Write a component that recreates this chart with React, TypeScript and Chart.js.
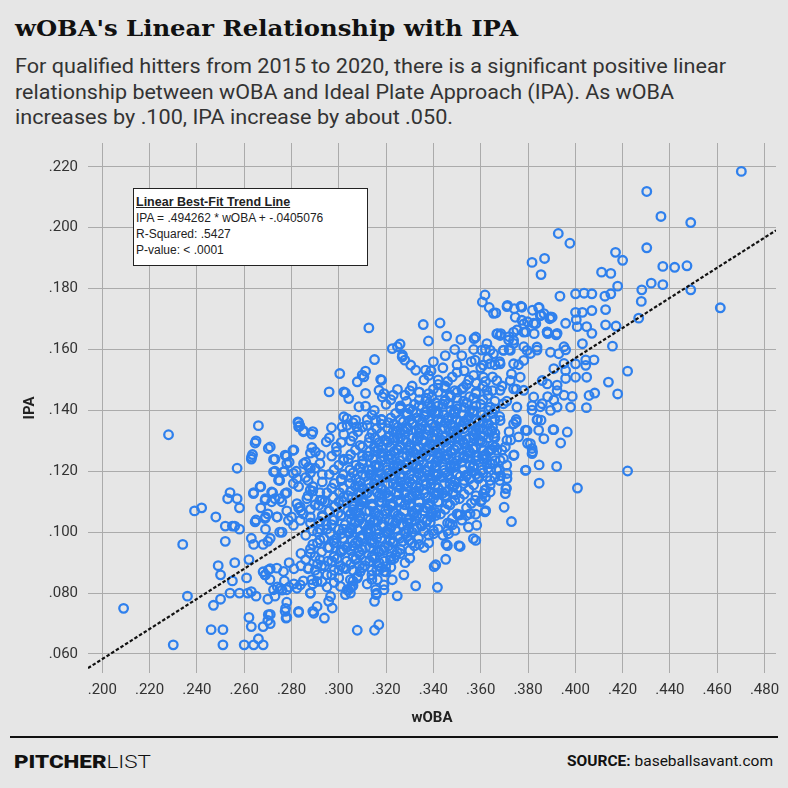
import React, { useEffect, useLayoutEffect, useRef } from "react";
import { Chart, registerables } from "chart.js";
Chart.register(...registerables);

type P = [number, number];

const X_TICKS = [0.2, 0.22, 0.24, 0.26, 0.28, 0.3, 0.32, 0.34, 0.36, 0.38, 0.4, 0.42, 0.44, 0.46, 0.48];
const Y_TICKS = [0.06, 0.08, 0.1, 0.12, 0.14, 0.16, 0.18, 0.2, 0.22];
const X_RANGE = [0.19395, 0.48485];
const Y_RANGE = [0.05376, 0.22782];
const TREND_SLOPE = 0.494262;
const TREND_INTERCEPT = -0.0405076;

// wOBA, IPA pairs
const LOW_TAIL: P[] = [
  [.228,.132],[.209,.075],[.230,.063],[.234,.096],[.236,.079],[.239,.107],[.242,.108],[.246,.068],[.251,.068],[.251,.063],
  [.248,.105],[.247,.076],[.250,.078],[.249,.089],[.250,.086],[.252,.102],[.252,.097],[.253,.111],[.254,.113],[.257,.111],
  [.258,.108],[.255,.102],[.256,.102],[.258,.101],[.256,.090],[.255,.084],[.254,.080],[.258,.080],[.257,.121],[.260,.063],
  [.2615,.080],[.263,.0805],[.265,.079],[.261,.085],[.262,.072],[.263,.069],[.264,.063],[.266,.065],[.268,.063],[.263,.124],
  [.2635,.1255],[.265,.130],[.266,.135],[.264,.113],[.267,.115],[.265,.104],[.263,.098],[.264,.096],[.262,.091],[.267,.108],
  [.271,.128],[.273,.124],[.273,.120],[.275,.117],[.272,.113],[.273,.111],[.275,.111],[.278,.113],[.269,.111],[.270,.106],
  [.269,.105],[.274,.105],[.269,.101],[.268,.096],[.270,.097],[.271,.098],[.275,.100],[.276,.100],[.268,.087],[.269,.086],
  [.271,.088],[.270,.078],[.273,.079],[.271,.073],[.270,.071],[.271,.070],[.268,.069],[.278,.125],[.279,.123],[.281,.127],
  [.277,.120],[.283,.136],[.2835,.135],[.285,.133],[.289,.133],[.286,.123],[.288,.121],[.287,.117],[.282,.120],[.283,.115],
  [.278,.107],[.280,.105],[.283,.108],[.284,.107],[.278,.077],[.2775,.075],[.278,.072],[.283,.074],[.289,.074],[.288,.080],
  [.274,.082],[.276,.081],[.279,.082],[.281,.083],[.277,.084],[.279,.090],[.281,.088],[.284,.089],[.286,.091],[.288,.093],
];

const LEFT_BAND: P[] = [
  [.2827,.1362],[.283,.1346],[.2851,.1333],[.2886,.1322],[.2969,.1343],[.2947,.1297],[.3021,.1379],[.3035,.1373],[.3071,.1368],
  [.3014,.1346],[.3035,.1351],[.3075,.1346],[.3021,.1322],[.312,.1351],[.3156,.1368],[.2646,.1293],[.2631,.1247],[.2702,.1275],
  [.2724,.1239],[.2773,.1253],[.2806,.1269],[.2886,.1278],[.2901,.1264],[.2922,.1253],[.2724,.1198],[.2766,.1198],[.278,.1225],
  [.2745,.1171],[.2808,.1193],[.2823,.1176],[.2808,.116],[.2851,.1225],[.2872,.1214],[.2667,.1149],[.2639,.1127],[.2716,.1132],
  [.2773,.1127],[.2688,.1105],[.2716,.11],[.2759,.11],[.2879,.1138],[.2865,.111],[.2823,.1094],[.2837,.1083],[.2915,.1088],
  [.2929,.1105],[.2646,.1034],[.2688,.1045],[.2738,.105],[.2787,.1039],[.2808,.1023],[.2837,.1039],[.2879,.105],
];

const UPPER_BAND: P[] = [
  [.3127,.1671],[.3226,.1603],[.3259,.1618],[.3248,.1609],[.3269,.1582],[.3279,.1565],[.3151,.1567],[.3004,.1521],[.2959,.1461],
  [.3113,.1529],[.3099,.1516],[.3078,.1494],[.3177,.1502],[.3268,.1576],[.3304,.1549],[.3325,.1532],[.3367,.1532],[.3021,.1461],
  [.3042,.1439],[.3085,.1412],[.3113,.1456],[.3028,.1458],[.3106,.151],[.3113,.1414],[.3181,.1499],[.317,.1466],[.3191,.1455],
  [.3184,.1444],[.3248,.1469],[.3357,.1682],[.3428,.1687],[.3379,.1628],[.3456,.1644],[.3516,.1633],[.3572,.1636],[.3579,.1641],
  [.345,.158],[.349,.160],[.352,.158],[.340,.156],[.357,.160],[.362,.160],
];

const BOTTOM_BAND: P[] = [
  [.3078,.0678],[.3151,.0678],[.3169,.0696],[.2939,.0718],[.2894,.0734],[.288,.08],[.2965,.0789],[.2972,.0751],[.3035,.0811],
  [.3049,.08],[.3056,.0822],[.3151,.0773],[.3158,.0795],[.3191,.0811],[.3247,.0791],[.3275,.086],[.3325,.0824],[.3417,.0819],
  [.3403,.0887],[.341,.0893],[.3452,.0911],[.3459,.0956],[.3508,.0956],[.3513,.0953],[.3579,.0973],[.3621,.1071],[.3579,.1059],
  [.3513,.1057],[.348,.1024],[.3699,.1082],[.373,.1035],[.3709,.1144],[.3685,.1185],[.3678,.1204],[.316,.08],[.3453,.0961],
  [.2957,.0773],[.2908,.0756],[.283,.0737],[.2773,.074],[.2777,.0718],[.2702,.0729],[.3049,.0816],[.3028,.0795],[.3007,.0822],
  [.3049,.0844],[.3078,.0849],[.3156,.0811],[.3163,.0844],[.3191,.0827],[.3226,.0844],[.3191,.0871],[.3198,.0887],[.3219,.0909],
  [.2872,.0882],[.2886,.0844],[.2908,.0838],[.2929,.0838],[.295,.086],[.2837,.0827],[.2823,.0816],[.278,.0811],[.2752,.0816],
  [.2724,.0811],[.2688,.086],[.2702,.0876],[.2738,.0882],[.2766,.0871],[.2709,.0844],
  [.3401,.0995],[.3464,.0995],[.3569,.0979],[.3491,.1006],[.3505,.1056],[.3583,.1023],[.3548,.1017],[.347,.1028],
];

const CORE: P[] = [
  [.285,.084],[.287,.088],[.284,.093],[.289,.096],[.286,.099],[.288,.103],[.285,.106],[.290,.109],[.287,.112],[.289,.115],
  [.286,.118],[.290,.121],[.288,.126],[.291,.086],[.292,.091],[.291,.100],[.293,.105],[.292,.113],[.293,.119],
  [.295,.082],[.297,.086],[.294,.089],[.298,.092],[.296,.095],[.299,.098],[.295,.101],[.298,.104],[.296,.107],[.300,.110],
  [.295,.113],[.298,.116],[.296,.119],[.300,.122],[.297,.125],[.299,.128],[.296,.131],[.300,.085],[.301,.094],[.302,.101],
  [.301,.117],[.302,.124],
  [.304,.081],[.306,.084],[.303,.088],[.307,.091],[.305,.094],[.308,.097],[.304,.100],[.307,.103],[.305,.106],[.309,.109],
  [.304,.112],[.307,.115],[.305,.118],[.309,.121],[.304,.124],[.307,.127],[.305,.130],[.308,.133],[.306,.136],[.309,.087],
  [.310,.099],[.310,.111],[.310,.125],
  [.312,.083],[.314,.086],[.311,.089],[.315,.092],[.313,.095],[.316,.098],[.312,.101],[.315,.104],[.313,.107],[.317,.110],
  [.312,.113],[.315,.116],[.313,.119],[.316,.122],[.312,.125],[.315,.128],[.313,.131],[.316,.134],[.312,.137],[.315,.140],
  [.317,.090],[.318,.102],[.318,.114],[.318,.126],[.318,.137],
  [.320,.087],[.322,.091],[.319,.094],[.323,.097],[.321,.100],[.324,.103],[.320,.106],[.323,.109],[.321,.112],[.325,.115],
  [.320,.118],[.323,.121],[.321,.124],[.325,.127],[.320,.130],[.323,.133],[.321,.136],[.324,.139],[.320,.142],[.323,.145],
  [.326,.093],[.326,.105],[.326,.118],[.326,.131],[.326,.141],
  [.328,.090],[.330,.094],[.327,.097],[.331,.100],[.329,.103],[.332,.106],[.328,.109],[.331,.112],[.329,.115],[.333,.118],
  [.328,.121],[.331,.124],[.329,.127],[.333,.130],[.328,.133],[.331,.136],[.329,.139],[.332,.142],[.328,.145],[.331,.148],
  [.334,.096],[.334,.108],[.334,.121],[.334,.134],[.334,.146],
  [.336,.095],[.338,.099],[.335,.102],[.339,.105],[.337,.108],[.340,.111],[.336,.114],[.339,.117],[.337,.120],[.341,.123],
  [.336,.126],[.339,.129],[.337,.132],[.341,.135],[.336,.138],[.339,.141],[.337,.144],[.340,.147],[.336,.150],[.339,.153],
  [.342,.101],[.342,.113],[.342,.126],[.342,.139],[.342,.150],
  [.344,.099],[.346,.103],[.343,.106],[.347,.109],[.345,.112],[.348,.115],[.344,.118],[.347,.121],[.345,.124],[.349,.127],
  [.344,.130],[.347,.133],[.345,.136],[.349,.139],[.344,.142],[.347,.145],[.345,.148],[.348,.151],[.344,.154],[.350,.106],
  [.350,.119],[.350,.131],[.350,.144],[.350,.155],
  [.352,.104],[.354,.108],[.351,.111],[.355,.114],[.353,.117],[.356,.120],[.352,.123],[.355,.126],[.353,.129],[.357,.132],
  [.352,.135],[.355,.138],[.353,.141],[.357,.144],[.352,.147],[.355,.150],[.353,.153],[.356,.156],[.358,.112],[.358,.125],
  [.358,.137],[.358,.149],
  [.360,.110],[.362,.114],[.359,.118],[.363,.121],[.361,.124],[.364,.127],[.360,.130],[.363,.133],[.361,.136],[.365,.139],
  [.360,.142],[.363,.145],[.361,.148],[.365,.151],[.360,.154],[.363,.157],[.366,.118],[.366,.131],[.366,.143],[.366,.155],
  [.368,.117],[.371,.122],[.369,.127],[.372,.133],[.368,.138],[.371,.143],[.369,.148],[.373,.152],[.368,.156],[.372,.160],
  [.375,.137],[.375,.147],[.376,.155],
];

const CORE_FILL: P[] = [
  [.289,.083],[.291,.0895],[.288,.0945],[.292,.0975],[.289,.1005],[.292,.1035],[.288,.1075],[.292,.1105],[.289,.1135],[.293,.1165],
  [.288,.1195],[.292,.1225],
  [.298,.0835],[.300,.0875],[.297,.0905],[.301,.0935],[.298,.0965],[.301,.0995],[.297,.1025],[.301,.1055],[.298,.1085],[.302,.1115],
  [.297,.1145],[.301,.1175],[.298,.1205],[.302,.1235],[.299,.1265],[.301,.1295],
  [.306,.0825],[.308,.0855],[.305,.0895],[.309,.0925],[.306,.0955],[.309,.0985],[.305,.1015],[.309,.1045],[.306,.1075],[.310,.1105],
  [.305,.1135],[.309,.1165],[.306,.1195],[.310,.1225],[.305,.1255],[.309,.1285],[.306,.1315],[.310,.1345],
  [.314,.0845],[.316,.0875],[.313,.0905],[.317,.0935],[.314,.0965],[.317,.0995],[.313,.1025],[.317,.1055],[.314,.1085],[.318,.1115],
  [.313,.1145],[.317,.1175],[.314,.1205],[.318,.1235],[.313,.1265],[.317,.1295],[.314,.1325],[.318,.1355],[.314,.1385],
  [.322,.0885],[.324,.0925],[.321,.0955],[.325,.0985],[.322,.1015],[.325,.1045],[.321,.1075],[.325,.1105],[.322,.1135],[.326,.1165],
  [.321,.1195],[.325,.1225],[.322,.1255],[.326,.1285],[.321,.1315],[.325,.1345],[.322,.1375],[.326,.1405],[.322,.1435],
  [.330,.0915],[.332,.0955],[.329,.0985],[.333,.1015],[.330,.1045],[.333,.1075],[.329,.1105],[.333,.1135],[.330,.1165],[.334,.1195],
  [.329,.1225],[.333,.1255],[.330,.1285],[.334,.1315],[.329,.1345],[.333,.1375],[.330,.1405],[.334,.1435],[.330,.1465],
  [.338,.0965],[.340,.1005],[.337,.1035],[.341,.1065],[.338,.1095],[.341,.1125],[.337,.1155],[.341,.1185],[.338,.1215],[.342,.1245],
  [.337,.1275],[.341,.1305],[.338,.1335],[.342,.1365],[.337,.1395],[.341,.1425],[.338,.1455],[.342,.1485],[.338,.1515],
  [.346,.1005],[.348,.1045],[.345,.1075],[.349,.1105],[.346,.1135],[.349,.1165],[.345,.1195],[.349,.1225],[.346,.1255],[.350,.1285],
  [.345,.1315],[.349,.1345],[.346,.1375],[.350,.1405],[.345,.1435],[.349,.1465],[.346,.1495],[.350,.1525],
  [.354,.1055],[.356,.1095],[.353,.1125],[.357,.1155],[.354,.1185],[.357,.1215],[.353,.1245],[.357,.1275],[.354,.1305],[.358,.1335],
  [.353,.1365],[.357,.1395],[.354,.1425],[.358,.1455],[.354,.1485],[.357,.1515],
  [.362,.1115],[.364,.1155],[.361,.1195],[.365,.1225],[.362,.1255],[.365,.1285],[.361,.1315],[.365,.1345],[.362,.1375],[.366,.1405],
  [.361,.1435],[.365,.1465],[.362,.1495],
];

const CORE_SOLID: P[] = [
  [.290,.0875],[.298,.0875],[.306,.0875],[.314,.0875],
  [.2927,.089],[.3007,.089],[.3087,.089],[.3167,.089],
  [.2953,.0905],[.3033,.0905],[.3113,.0905],[.3193,.0905],
  [.290,.092],[.298,.092],[.306,.092],[.314,.092],[.322,.092],
  [.2927,.0935],[.3007,.0935],[.3087,.0935],[.3167,.0935],[.3247,.0935],
  [.2953,.095],[.3033,.095],[.3113,.095],[.3193,.095],
  [.291,.0965],[.299,.0965],[.307,.0965],[.315,.0965],[.323,.0965],[.331,.0965],
  [.2937,.098],[.3017,.098],[.3097,.098],[.3177,.098],[.3257,.098],[.3337,.098],
  [.2963,.0995],[.3043,.0995],[.3123,.0995],[.3203,.0995],[.3283,.0995],
  [.292,.101],[.300,.101],[.308,.101],[.316,.101],[.324,.101],[.332,.101],
  [.2947,.1025],[.3027,.1025],[.3107,.1025],[.3187,.1025],[.3267,.1025],[.3347,.1025],
  [.2973,.104],[.3053,.104],[.3133,.104],[.3213,.104],[.3293,.104],[.3373,.104],
  [.293,.1055],[.301,.1055],[.309,.1055],[.317,.1055],[.325,.1055],[.333,.1055],[.341,.1055],
  [.2957,.107],[.3037,.107],[.3117,.107],[.3197,.107],[.3277,.107],[.3357,.107],
  [.2983,.1085],[.3063,.1085],[.3143,.1085],[.3223,.1085],[.3303,.1085],[.3383,.1085],
  [.294,.110],[.302,.110],[.310,.110],[.318,.110],[.326,.110],[.334,.110],[.342,.110],
  [.2977,.1115],[.3057,.1115],[.3137,.1115],[.3217,.1115],[.3297,.1115],[.3377,.1115],[.3457,.1115],
  [.3003,.113],[.3083,.113],[.3163,.113],[.3243,.113],[.3323,.113],[.3403,.113],[.3483,.113],
  [.302,.1145],[.310,.1145],[.318,.1145],[.326,.1145],[.334,.1145],[.342,.1145],[.350,.1145],
  [.3047,.116],[.3127,.116],[.3207,.116],[.3287,.116],[.3367,.116],[.3447,.116],[.3527,.116],
  [.3073,.1175],[.3153,.1175],[.3233,.1175],[.3313,.1175],[.3393,.1175],[.3473,.1175],[.3553,.1175],
  [.302,.119],[.310,.119],[.318,.119],[.326,.119],[.334,.119],[.342,.119],[.350,.119],[.358,.119],
  [.3047,.1205],[.3127,.1205],[.3207,.1205],[.3287,.1205],[.3367,.1205],[.3447,.1205],[.3527,.1205],[.3607,.1205],
  [.3073,.122],[.3153,.122],[.3233,.122],[.3313,.122],[.3393,.122],[.3473,.122],[.3553,.122],
  [.310,.1235],[.318,.1235],[.326,.1235],[.334,.1235],[.342,.1235],[.350,.1235],[.358,.1235],[.366,.1235],
  [.3127,.125],[.3207,.125],[.3287,.125],[.3367,.125],[.3447,.125],[.3527,.125],[.3607,.125],
  [.3153,.1265],[.3233,.1265],[.3313,.1265],[.3393,.1265],[.3473,.1265],[.3553,.1265],[.3633,.1265],
  [.310,.128],[.318,.128],[.326,.128],[.334,.128],[.342,.128],[.350,.128],[.358,.128],[.366,.128],
  [.3127,.1295],[.3207,.1295],[.3287,.1295],[.3367,.1295],[.3447,.1295],[.3527,.1295],[.3607,.1295],
  [.3153,.131],[.3233,.131],[.3313,.131],[.3393,.131],[.3473,.131],[.3553,.131],[.3633,.131],
  [.318,.1325],[.326,.1325],[.334,.1325],[.342,.1325],[.350,.1325],[.358,.1325],[.366,.1325],
  [.3207,.134],[.3287,.134],[.3367,.134],[.3447,.134],[.3527,.134],[.3607,.134],
  [.3233,.1355],[.3313,.1355],[.3393,.1355],[.3473,.1355],[.3553,.1355],[.3633,.1355],
  [.318,.137],[.326,.137],[.334,.137],[.342,.137],[.350,.137],[.358,.137],[.366,.137],
  [.3287,.1385],[.3367,.1385],[.3447,.1385],[.3527,.1385],[.3607,.1385],
  [.3313,.140],[.3393,.140],[.3473,.140],[.3553,.140],[.3633,.140],
  [.326,.1415],[.334,.1415],[.342,.1415],[.350,.1415],[.358,.1415],
  [.3287,.143],[.3367,.143],[.3447,.143],[.3527,.143],
  [.3393,.1445],[.3473,.1445],[.3553,.1445],
  [.334,.146],[.342,.146],[.350,.146],[.358,.146],
  [.3447,.1475],[.3527,.1475],
];

const CORE_HEART: P[] = [
  [.3055,.1008],[.3135,.1008],[.3215,.1008],[.3295,.1008],
  [.3085,.1038],[.3165,.1038],[.3245,.1038],[.3325,.1038],
  [.307,.1068],[.315,.1068],[.323,.1068],[.331,.1068],[.339,.1068],
  [.310,.1098],[.318,.1098],[.326,.1098],[.334,.1098],[.342,.1098],
  [.312,.1128],[.320,.1128],[.328,.1128],[.336,.1128],[.344,.1128],
  [.315,.1158],[.323,.1158],[.331,.1158],[.339,.1158],[.347,.1158],
  [.314,.1188],[.322,.1188],[.330,.1188],[.338,.1188],[.346,.1188],[.354,.1188],
  [.317,.1218],[.325,.1218],[.333,.1218],[.341,.1218],[.349,.1218],[.357,.1218],
  [.319,.1248],[.327,.1248],[.335,.1248],[.343,.1248],[.351,.1248],[.359,.1248],
  [.322,.1278],[.330,.1278],[.338,.1278],[.346,.1278],[.354,.1278],
  [.325,.1308],[.333,.1308],[.341,.1308],[.349,.1308],[.357,.1308],
  [.327,.1338],[.335,.1338],[.343,.1338],[.351,.1338],[.359,.1338],
  [.330,.1368],[.338,.1368],[.346,.1368],[.354,.1368],
  [.341,.1398],[.349,.1398],[.357,.1398],
];

const CORE_DEEP: P[] = [
  [.302,.0883],[.310,.0883],[.318,.0883],
  [.2993,.0913],[.3073,.0913],[.3153,.0913],[.3233,.0913],
  [.302,.0943],[.310,.0943],[.318,.0943],[.326,.0943],
  [.2977,.0973],[.3057,.0973],[.3137,.0973],[.3217,.0973],[.3297,.0973],
  [.304,.1003],[.312,.1003],[.320,.1003],[.328,.1003],[.336,.1003],
  [.3067,.1033],[.3147,.1033],[.3227,.1033],[.3307,.1033],[.3387,.1033],
  [.2997,.1063],[.3077,.1063],[.3157,.1063],[.3237,.1063],[.3317,.1063],[.3397,.1063],
  [.306,.1093],[.314,.1093],[.322,.1093],[.330,.1093],[.338,.1093],[.346,.1093],
  [.3093,.1123],[.3173,.1123],[.3253,.1123],[.3333,.1123],[.3413,.1123],[.3493,.1123],
  [.3087,.1153],[.3167,.1153],[.3247,.1153],[.3327,.1153],[.3407,.1153],[.3487,.1153],
  [.3113,.1183],[.3193,.1183],[.3273,.1183],[.3353,.1183],[.3433,.1183],[.3513,.1183],[.3593,.1183],
  [.3087,.1213],[.3167,.1213],[.3247,.1213],[.3327,.1213],[.3407,.1213],[.3487,.1213],[.3567,.1213],
  [.3143,.1243],[.3223,.1243],[.3303,.1243],[.3383,.1243],[.3463,.1243],[.3543,.1243],[.3623,.1243],
  [.3167,.1273],[.3247,.1273],[.3327,.1273],[.3407,.1273],[.3487,.1273],[.3567,.1273],[.3647,.1273],
  [.3193,.1303],[.3273,.1303],[.3353,.1303],[.3433,.1303],[.3513,.1303],[.3593,.1303],
  [.3247,.1333],[.3327,.1333],[.3407,.1333],[.3487,.1333],[.3567,.1333],[.3647,.1333],
  [.3273,.1363],[.3353,.1363],[.3433,.1363],[.3513,.1363],[.3593,.1363],
  [.3327,.1393],[.3407,.1393],[.3487,.1393],[.3567,.1393],
  [.3383,.1423],[.3463,.1423],[.3543,.1423],
];

const RIGHT_BAND: P[] = [
  [.3741,.1254],[.3791,.1204],[.3847,.1221],[.3847,.1161],[.3727,.1303],[.3798,.1292],[.3819,.1264],[.3855,.1368],[.384,.137],
  [.3883,.1445],[.3607,.1756],[.3636,.1738],[.3664,.172],[.3713,.1745],[.3742,.1734],[.377,.1742],[.3819,.1729],[.3847,.1738],
  [.3855,.1713],[.3833,.1685],[.3798,.1691],[.3791,.1658],[.3826,.1652],[.3883,.1652],[.372,.1642],[.3685,.1652],[.3671,.1652],
  [.3845,.1335],[.3909,.1337],[.3817,.1275],[.376,.1313],[.3789,.1335],[.375,.1362],[.3817,.1401],[.3852,.1412],[.3909,.1434],
  [.3952,.145],[.3923,.1483],[.3959,.1505],[.3952,.1554],[.3704,.128],[.3696,.1242],[.3711,.1193],[.3668,.1204],[.364,.1225],
  [.3626,.1182],[.359,.1176],[.3704,.1127],[.3618,.1138],[.3576,.1105],[.3604,.1105],[.3555,.1061],[.3618,.1067],
  [.3774,.1696],[.3753,.1664],[.3867,.1718],[.3895,.1707],[.3881,.1658],[.3923,.1653],[.3718,.1631],[.3739,.162],[.3696,.1598],
  [.3782,.1609],[.381,.1587],[.3838,.1598],[.3952,.1609],[.364,.1598],[.3604,.1598],[.3576,.1565],[.3611,.1549],
  [.3626,.1619],[.3668,.1651],[.3682,.1646],[.3739,.163],[.3725,.1597],[.3654,.1586],[.3696,.1597],[.364,.1553],[.3682,.1553],
  [.3739,.1553],[.3782,.1564],[.3611,.1509],[.3668,.1498],[.3725,.1498],[.3767,.1509],[.3626,.1466],[.3682,.1466],[.3739,.1471],
  [.3782,.1466],[.364,.1411],[.3696,.1422],[.3753,.1411],[.3626,.1356],[.3682,.1367],[.3739,.1356],[.3654,.1313],[.3711,.1302],
  [.3611,.1269],[.3668,.1269],[.3626,.1225],[.3682,.1236],[.364,.117],[.3611,.1127],[.364,.1132],
];

const HIGH_TAIL: P[] = [
  [.4702,.2185],[.4302,.2119],[.4362,.2037],[.4488,.2017],[.4302,.1934],[.3928,.1981],[.3977,.1949],[.417,.1919],[.42,.1893],
  [.3817,.1886],[.387,.1899],[.3855,.1846],[.4111,.1854],[.415,.185],[.437,.1873],[.442,.187],[.4472,.1875],[.4321,.1818],
  [.437,.1813],[.4281,.1796],[.4279,.1758],[.4488,.1796],[.4613,.1737],[.4179,.1808],[.415,.1783],[.4125,.1775],[.3935,.1775],
  [.4001,.1783],[.4037,.1785],[.407,.1783],[.4268,.1703],[.4128,.1731],[.4128,.1681],[.4172,.1677],[.4001,.1722],[.403,.1722],
  [.407,.1728],[.4004,.1698],[.4008,.1675],[.4048,.1675],[.407,.1653],[.3959,.1686],[.3919,.1648],[.3881,.1657],[.3892,.1701],
  [.3902,.1706],[.3852,.1711],[.3824,.1686],[.3782,.1657],[.3782,.1684],[.3739,.1657],[.3746,.1706],[.3711,.1741],[.3774,.1739],
  [.3845,.1737],[.3654,.1719],[.3618,.1779],[.4157,.1611],[.403,.1619],[.3959,.1599],[.393,.1586],[.3895,.1591],[.3838,.1608],
  [.3796,.1597],[.4044,.1566],[.4079,.1566],[.4044,.1548],[.4001,.1553],[.4001,.1509],[.4048,.1509],[.3959,.1531],[.3909,.1537],
  [.4221,.1529],[.414,.1493],[.4179,.1454],[.4058,.1449],[.4082,.1457],[.3987,.1446],[.398,.1411],[.4047,.1409],[.3923,.1411],
  [.3895,.14],[.386,.1422],[.3824,.1444],[.3817,.1416],[.3881,.1487],[.386,.1498],[.3923,.1465],[.3906,.1337],[.3966,.1329],
  [.3938,.1293],[.3867,.1307],[.3838,.1369],[.3796,.1334],[.381,.1291],[.3817,.1258],[.3739,.1252],[.3711,.1176],[.3706,.1143],
  [.3789,.1203],[.3921,.1216],[.4009,.1145],[.4221,.1201],
];

const POINTS: P[] = [
  ...LOW_TAIL, ...LEFT_BAND, ...UPPER_BAND, ...BOTTOM_BAND, ...CORE, ...CORE_FILL, ...CORE_SOLID, ...CORE_HEART,
  ...CORE_DEEP, ...RIGHT_BAND, ...HIGH_TAIL,
];

const fmt = (v: number) => v.toFixed(3).replace(/^0/, "");

function Fit({ w, style, children }: { w: number; style: React.CSSProperties; children: React.ReactNode }) {
  const ref = useRef<HTMLDivElement>(null);
  useLayoutEffect(() => {
    const el = ref.current;
    if (!el) return;
    el.style.transform = "none";
    const actual = el.getBoundingClientRect().width;
    if (actual > 0) el.style.transform = `scaleX(${w / actual})`;
  }, [w]);
  return (
    <div
      ref={ref}
      style={{ position: "absolute", whiteSpace: "nowrap", transformOrigin: "left center", width: "max-content", ...style }}
    >
      {children}
    </div>
  );
}

const zeroPad = (s: any) => {
  s.paddingTop = 0;
  s.paddingBottom = 0;
  s.paddingLeft = 0;
  s.paddingRight = 0;
};

export default function App() {
  const canvasRef = useRef<HTMLCanvasElement>(null);

  useEffect(() => {
    const canvas = canvasRef.current;
    if (!canvas) return;
    const tickFont = { family: "Roboto", size: 15 };
    const chart = new Chart(canvas, {
      type: "scatter",
      data: {
        datasets: [
          {
            type: "line",
            data: X_RANGE.map((x) => ({ x, y: TREND_SLOPE * x + TREND_INTERCEPT })),
            borderColor: "#111111",
            borderWidth: 2.2,
            borderDash: [3.5, 2],
            pointRadius: 0,
            fill: false,
            order: 0,
          } as any,
          {
            data: POINTS.map(([x, y]) => ({ x, y })),
            pointStyle: "circle",
            pointRadius: 4.3,
            borderWidth: 2.3,
            borderColor: "#2f80ed",
            backgroundColor: "rgba(0,0,0,0)",
            order: 1,
          },
        ],
      },
      options: {
        animation: false,
        responsive: false,
        devicePixelRatio: 1,
        layout: { autoPadding: false, padding: { left: 0, right: 12, top: 13, bottom: 0 } },
        plugins: { legend: { display: false }, tooltip: { enabled: false } },
        scales: {
          x: {
            type: "linear",
            min: X_RANGE[0],
            max: X_RANGE[1],
            afterBuildTicks: (s: any) => {
              s.ticks = X_TICKS.map((value) => ({ value }));
            },
            afterFit: (s: any) => {
              s.height = 57;
              zeroPad(s);
            },
            grid: { color: "#ababab", lineWidth: 1, drawTicks: false },
            border: { display: false },
            ticks: { font: tickFont, color: "#333333", padding: 8, maxRotation: 0, autoSkip: false, callback: (v: any) => fmt(Number(v)) },
            title: { display: true, text: "wOBA", font: { family: "Roboto", size: 15, weight: "bold" }, color: "#222222", padding: { top: 0, bottom: 3 } },
          },
          y: {
            type: "linear",
            min: Y_RANGE[0],
            max: Y_RANGE[1],
            afterBuildTicks: (s: any) => {
              s.ticks = Y_TICKS.map((value) => ({ value }));
            },
            afterFit: (s: any) => {
              s.width = 88;
              zeroPad(s);
            },
            grid: { color: "#ababab", lineWidth: 1, drawTicks: false },
            border: { display: false },
            ticks: { font: tickFont, color: "#333333", padding: 10, autoSkip: false, callback: (v: any) => fmt(Number(v)) },
            title: { display: true, text: "IPA", font: { family: "Roboto", size: 15, weight: "bold" }, color: "#222222", padding: { top: 21, bottom: 0 } },
          },
        },
      },
    });
    return () => chart.destroy();
  }, []);

  const boxLine: React.CSSProperties = { height: 16, lineHeight: "16px" };

  return (
    <div style={{ position: "fixed", left: 0, top: 0, width: 788, height: 788, background: "#e6e6e6", overflow: "hidden" }}>
      <Fit w={503} style={{ left: 15, top: 15, fontFamily: "'DejaVu Serif'", fontWeight: 700, fontSize: 22, lineHeight: "26px", color: "#111" }}>
        wOBA's Linear Relationship with IPA
      </Fit>
      <Fit w={711} style={{ left: 15, top: 55, fontFamily: "Roboto", fontSize: 19.5, lineHeight: "24px", color: "#333" }}>
        For qualified hitters from 2015 to 2020, there is a significant positive linear
      </Fit>
      <Fit w={659} style={{ left: 15, top: 80.5, fontFamily: "Roboto", fontSize: 19.5, lineHeight: "24px", color: "#333" }}>
        relationship between wOBA and Ideal Plate Approach (IPA). As wOBA
      </Fit>
      <Fit w={438} style={{ left: 15, top: 106, fontFamily: "Roboto", fontSize: 19.5, lineHeight: "24px", color: "#333" }}>
        increases by .100, IPA increase by about .050.
      </Fit>
      <canvas ref={canvasRef} width={788} height={600} style={{ position: "absolute", left: 0, top: 130, width: 788, height: 600 }} />
      <div
        style={{
          position: "absolute",
          left: 133,
          top: 188,
          width: 235,
          height: 78,
          boxSizing: "border-box",
          background: "#ffffff",
          border: "1px solid #222",
          padding: "5px 0 0 2px",
          fontFamily: "'Liberation Sans'",
          fontSize: 12,
          color: "#222",
        }}
      >
        <div style={{ ...boxLine, fontWeight: 700, fontSize: 12.5, textDecoration: "underline" }}>Linear Best-Fit Trend Line</div>
        <div style={boxLine}>IPA = .494262 * wOBA + -.0405076</div>
        <div style={boxLine}>R-Squared: .5427</div>
        <div style={boxLine}>P-value: &lt; .0001</div>
      </div>
      <div style={{ position: "absolute", left: 10, top: 736, width: 768, height: 2, background: "#111" }} />
      <Fit w={137} style={{ left: 14, top: 750, fontFamily: "Roboto", fontSize: 19, lineHeight: "23px", color: "#111" }}>
        <span style={{ fontWeight: 900 }}>PITCHER</span>
        <span style={{ fontWeight: 300 }}>LIST</span>
      </Fit>
      <Fit w={206} style={{ left: 567, top: 752, fontFamily: "Roboto", fontSize: 15, lineHeight: "18px", color: "#111" }}>
        <span style={{ fontWeight: 700 }}>SOURCE:</span>
        <span> baseballsavant.com</span>
      </Fit>
    </div>
  );
}
